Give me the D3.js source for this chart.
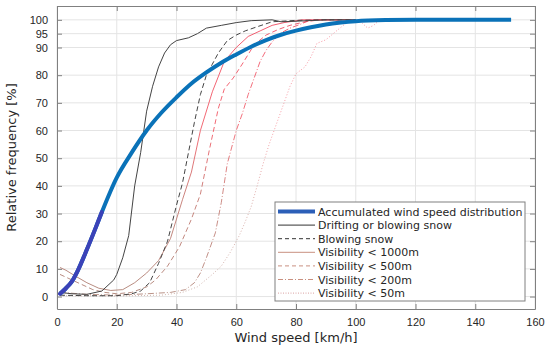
<!DOCTYPE html>
<html>
<head>
<meta charset="utf-8">
<script src="https://cdn.jsdelivr.net/npm/d3@7"></script>
<style>
body { margin:0; background:#fff; }
svg { font-family:"DejaVu Sans", sans-serif; }
.tick text { fill:#262626; font-size:11px; }
</style>
</head>
<body>
<svg></svg>
<script>
// series: [wind speed km/h, relative frequency %]
var accumulated = [[1,1],[3,3],[5,5.5],[7,9.5],[10,17],[13,25],[15,30.5],[20,43],[25,52],[30,60],[35,66.5],[40,72],[45,77],[50,81],[55,84.5],[60,87.5],[65,90.3],[70,92.7],[75,94.6],[80,96.1],[85,97.3],[90,98.3],[95,99],[100,99.5],[110,99.9],[120,100],[152,100]]
var drifting = [[1,1.5],[5,1],[10,0.8],[15,2],[19,6],[20,8],[22,14],[24,22],[26,40],[28,52],[30,67],[32,76],[34,83],[36,88],[38,91],[40,92.5],[44,93.5],[47,95],[50,97],[55,98],[60,99],[65,99.7],[72,100],[75,99.3],[80,99.5],[90,100],[100,100]]
var blowing = [[1,0.5],[10,0.3],[20,0.3],[25,1],[28,2],[31,5],[34,12],[37,20],[40,33],[42,41],[44,52],[46,63],[48,73],[50,80],[52,84],[54,88],[57,92.5],[60,94.5],[63,96],[67,97.5],[72,99.3],[80,99.8],[90,100],[100,100]]
var vis1000 = [[1,10.5],[3,9.5],[6,7.5],[10,5],[14,3],[18,2.2],[22,2.5],[26,5],[30,8.5],[34,13],[38,21],[42,35],[45,45],[48,60],[52,74],[56,85],[60,90],[64,94],[68,96],[72,98],[76,99],[82,100],[90,100],[100,100]]
var vis500 = [[1,8],[4,6.5],[8,4.5],[12,2.5],[16,1.5],[20,1],[25,1.5],[30,3.5],[33,6],[37,11],[41,18],[45,28],[48,37],[51,53],[54,68],[56,75],[59,79],[62,84],[66,91],[70,94.5],[74,96.5],[78,98],[83,99.3],[88,100],[100,100]]
var vis200 = [[1,1.5],[10,0.8],[20,0.5],[30,1],[38,1.5],[43,2.5],[46,5],[48,8.5],[50,14],[53,23],[55,34],[57,48],[60,60],[62,66],[64,73],[66,79],[68,85],[70,89],[72,92],[75,95.3],[78,97],[81,98.2],[85,100],[100,100]]
var vis50 = [[1,0.3],[20,0.2],[35,0.5],[42,1.5],[47,3.5],[52,8],[55,11],[58,16],[61,22],[63,27],[65,32.5],[67,40],[69,48],[71,55],[74,64],[76,70],[78,76],[80,80.5],[83,83],[85,86.6],[87,91.5],[90,92.8],[94,96.4],[97,99],[100,100],[102,99],[104,97],[106,98],[108,100],[120,100]]

var legendNames = ["Accumulated wind speed distribution","Drifting or blowing snow","Blowing snow",
                   "Visibility < 1000m","Visibility < 500m","Visibility < 200m","Visibility < 50m"]
var xTicks = [0,20,40,60,80,100,120,140,160]
var yTicks = [0,10,20,30,40,50,60,70,80,90,95,100]

var svg = d3.select("svg").attr("width",550).attr("height",350)

var plot = {left:57,right:535,top:6,bottom:309}

var xScale = d3.scaleLinear().domain([0,160]).range([plot.left,plot.right])
var yScale = d3.scaleLinear().domain([-4.5,105]).range([plot.bottom,plot.top])

// reddish lines go brownish near the bottom
var grad = svg.append("defs").append("linearGradient")
    .attr("id","redgrad")
    .attr("gradientUnits","userSpaceOnUse")
    .attr("x1",0).attr("x2",0)
    .attr("y1",yScale(0)).attr("y2",yScale(100))
grad.append("stop").attr("offset","0").attr("stop-color","#a8786a")
grad.append("stop").attr("offset","0.35").attr("stop-color","#c07068")
grad.append("stop").attr("offset","0.6").attr("stop-color","#f0505c")
grad.append("stop").attr("offset","1").attr("stop-color","#f04058")

// grid
var grid = svg.append("g")
grid.selectAll(".gx").data(xTicks).enter().append("line")
    .attr("x1",d=>xScale(d)).attr("x2",d=>xScale(d))
    .attr("y1",plot.top).attr("y2",plot.bottom)
    .attr("stroke","#e4e4e4").attr("stroke-width",1)
grid.selectAll(".gy").data(yTicks).enter().append("line")
    .attr("x1",plot.left).attr("x2",plot.right)
    .attr("y1",d=>yScale(d)).attr("y2",d=>yScale(d))
    .attr("stroke","#e4e4e4").attr("stroke-width",1)

var line = d3.line().x(d=>xScale(d[0])).y(d=>yScale(d[1]))
var smooth = d3.line().x(d=>xScale(d[0])).y(d=>yScale(d[1])).curve(d3.curveMonotoneX)

var series = [
    {data:vis50, color:"url(#redgrad)", width:1, dash:"1,2", op:0.55},
    {data:vis200, color:"url(#redgrad)", width:1, dash:"6,2,1,2", op:0.8},
    {data:vis500, color:"url(#redgrad)", width:1, dash:"5,3", op:0.85},
    {data:vis1000, color:"url(#redgrad)", width:1, dash:null, op:0.85},
    {data:blowing, color:"#444", width:1, dash:"5,3", op:1},
    {data:drifting, color:"#444", width:1, dash:null, op:1}
]
series.forEach(function(s){
    svg.append("path").datum(s.data)
      .attr("d",line)
      .attr("fill","none")
      .attr("stroke",s.color)
      .attr("stroke-width",s.width)
      .attr("stroke-dasharray",s.dash)
      .attr("opacity",s.op)
})

svg.append("path").datum(accumulated)
    .attr("d",smooth)
    .attr("fill","none")
    .attr("stroke","#0a72b8")
    .attr("stroke-width",4)
    .attr("stroke-linejoin","round")
// lower part of the thick curve looks darker/indigo
svg.append("path").datum(accumulated.filter(d=>d[0]<=15))
    .attr("d",smooth)
    .attr("fill","none")
    .attr("stroke","#3b42b8")
    .attr("stroke-width",4)
    .attr("stroke-linecap","round")

// axes (ticks inside, box all round)
var axB = d3.axisBottom(xScale).tickValues(xTicks).tickSize(-5).tickSizeOuter(0).tickPadding(9)
var axT = d3.axisTop(xScale).tickValues(xTicks).tickSize(-5).tickSizeOuter(0).tickFormat("")
var axL = d3.axisLeft(yScale).tickValues(yTicks).tickSize(-5).tickSizeOuter(0).tickPadding(9)
var axR = d3.axisRight(yScale).tickValues(yTicks).tickSize(-5).tickSizeOuter(0).tickFormat("")

function styleAxis(g){
    g.select(".domain").attr("stroke","#808080")
    g.selectAll(".tick line").attr("stroke","#808080")
}
svg.append("g").attr("transform","translate(0,"+plot.bottom+")").call(axB).call(styleAxis)
svg.append("g").attr("transform","translate(0,"+plot.top+")").call(axT).call(styleAxis)
svg.append("g").attr("transform","translate("+plot.left+",0)").call(axL).call(styleAxis)
svg.append("g").attr("transform","translate("+plot.right+",0)").call(axR).call(styleAxis)

// labels
svg.append("text")
    .text("Wind speed [km/h]")
    .attr("text-anchor","middle")
    .attr("x",(plot.left+plot.right)/2)
    .attr("y",342)
    .attr("font-size",13)
    .attr("fill","#262626")
svg.append("text")
    .text("Relative frequency [%]")
    .attr("text-anchor","middle")
    .attr("transform","translate(16,"+((plot.top+plot.bottom)/2)+") rotate(-90)")
    .attr("font-size",13)
    .attr("fill","#262626")

// legend
var legendStyles = [
    {color:"#2c5fb8", width:4, dash:null},
    {color:"#333", width:1, dash:null},
    {color:"#333", width:1, dash:"4,3"},
    {color:"#c99080", width:1, dash:null},
    {color:"#c99080", width:1, dash:"4,3"},
    {color:"#c99080", width:1, dash:"5,2,1,2"},
    {color:"#d9a0a0", width:1, dash:"1,1.5"}
]
var legend = svg.append("g").attr("transform","translate(275,202)")
legend.append("rect")
    .attr("width",250).attr("height",99)
    .attr("fill","#fff").attr("stroke","#808080").attr("stroke-width",1)
var rows = legend.selectAll(".row").data(legendNames).enter().append("g")
    .attr("transform",(d,i)=>"translate(0,"+(9.5+i*13.6)+")")
rows.append("line")
    .attr("x1",3).attr("x2",40)
    .attr("stroke",(d,i)=>legendStyles[i].color)
    .attr("stroke-width",(d,i)=>legendStyles[i].width)
    .attr("stroke-dasharray",(d,i)=>legendStyles[i].dash)
rows.append("text")
    .text(d=>d)
    .attr("x",43)
    .attr("y",4)
    .attr("font-size",11)
    .attr("fill","#262626")
</script>
</body>
</html>
